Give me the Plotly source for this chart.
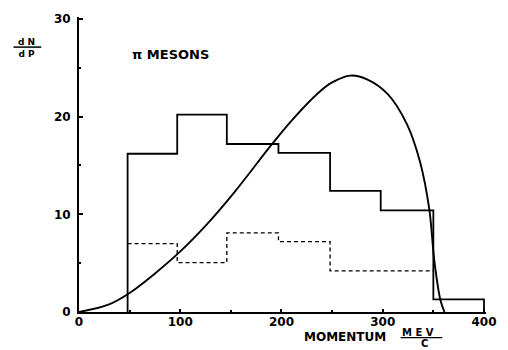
import plotly.graph_objects as go

# Histogram of all pi mesons: bin edges (MeV/c) and heights
solid_edges = [48, 97, 146, 197, 248, 298, 350, 400]
solid_heights = [16.2, 20.2, 17.2, 16.3, 12.4, 10.4, 1.3]

# Dashed histogram subset
dashed_edges = [48, 97, 146, 197, 248, 350]
dashed_heights = [7.0, 5.05, 8.1, 7.2, 4.2]

# Theoretical momentum spectrum curve
curve_p = [0, 29, 50, 74.5, 99, 126.5, 153, 190, 210, 236, 250, 268, 285,
           305, 324, 337, 346, 351, 357, 361]
curve_n = [0, 0.75, 1.95, 3.9, 6.1, 9.0, 12.2, 17.1, 19.6, 22.4, 23.5, 24.2,
           23.8, 22.3, 19.2, 15.3, 10.5, 5.2, 1.2, 0]

x_ticks = [0, 100, 200, 300, 400]
y_ticks = [0, 10, 20, 30]


def step_outline(edges, heights, close=True):
    xs, ys = [], []
    if close:
        xs.append(edges[0]); ys.append(0)
    for i, h in enumerate(heights):
        xs += [edges[i], edges[i + 1]]
        ys += [h, h]
    if close:
        xs.append(edges[-1]); ys.append(0)
    return xs, ys


FONT = "DejaVu Sans"
fig = go.Figure()

sx, sy = step_outline(solid_edges, solid_heights, close=True)
fig.add_trace(go.Scatter(x=sx, y=sy, mode="lines",
                         line=dict(color="black", width=1.8),
                         hoverinfo="skip"))

dx, dy = step_outline(dashed_edges, dashed_heights, close=False)
fig.add_trace(go.Scatter(x=dx, y=dy, mode="lines",
                         line=dict(color="black", width=1.3, dash="4px,3px"),
                         hoverinfo="skip"))

fig.add_trace(go.Scatter(x=curve_p, y=curve_n, mode="lines",
                         line=dict(color="black", width=1.9, shape="spline",
                                   smoothing=1.0),
                         hoverinfo="skip"))

tick_font = dict(family=FONT, size=12, color="black", weight="bold")

fig.update_layout(
    width=508, height=350,
    margin=dict(l=79, r=19, t=13, b=38),
    paper_bgcolor="white", plot_bgcolor="white",
    showlegend=False,
    font=dict(family=FONT, color="black", size=12),
    xaxis=dict(range=[0, 402], showgrid=False, zeroline=False,
               showline=True, linecolor="black", linewidth=2,
               tickvals=x_ticks, ticktext=[str(v) for v in x_ticks],
               ticks="inside", ticklen=3, tickcolor="black", tickwidth=1.5,
               minor=dict(tickvals=[50, 150, 250, 350], ticks="inside",
                          ticklen=2, tickcolor="black"),
               tickfont=tick_font, ticklabelstandoff=-2),
    yaxis=dict(range=[0, 30.2], showgrid=False, zeroline=False,
               showline=True, linecolor="black", linewidth=2,
               tickvals=y_ticks, ticktext=[str(v) for v in y_ticks],
               ticks="inside", ticklen=4, tickcolor="black", tickwidth=1.5,
               minor=dict(tickvals=[5, 15, 25], ticks="inside",
                          ticklen=2, tickcolor="black"),
               tickfont=tick_font, ticklabelstandoff=4),
)


def px_x(px):
    return (px - 79) / 410.0


def px_y(py):
    return (312 - py) / 299.0


annots = [
    dict(text="d N<br>d P", x=26, y=44, size=9),
    dict(text="π MESONS", x=171, y=51, size=13),
    dict(text="MOMENTUM", x=347, y=337, size=12),
    dict(text="M E V", x=421, y=332.5, size=10),
    dict(text="C", x=427, y=344, size=10),
]
for a in annots:
    fig.add_annotation(text=a["text"], x=px_x(a["x"]), y=px_y(a["y"]),
                       xref="paper", yref="paper", xanchor="center",
                       yanchor="middle", showarrow=False, align="center",
                       font=dict(family=FONT, size=a["size"], color="black",
                                 weight="bold"))

# fraction bars for dN/dP and MEV/C
fig.add_shape(type="line", xref="paper", yref="paper",
              x0=px_x(13), x1=px_x(41), y0=px_y(43.5), y1=px_y(43.5),
              line=dict(color="black", width=1.5))
fig.add_shape(type="line", xref="paper", yref="paper",
              x0=px_x(403), x1=px_x(445), y0=px_y(338), y1=px_y(338),
              line=dict(color="black", width=1.3))

fig.write_html("out.html")
